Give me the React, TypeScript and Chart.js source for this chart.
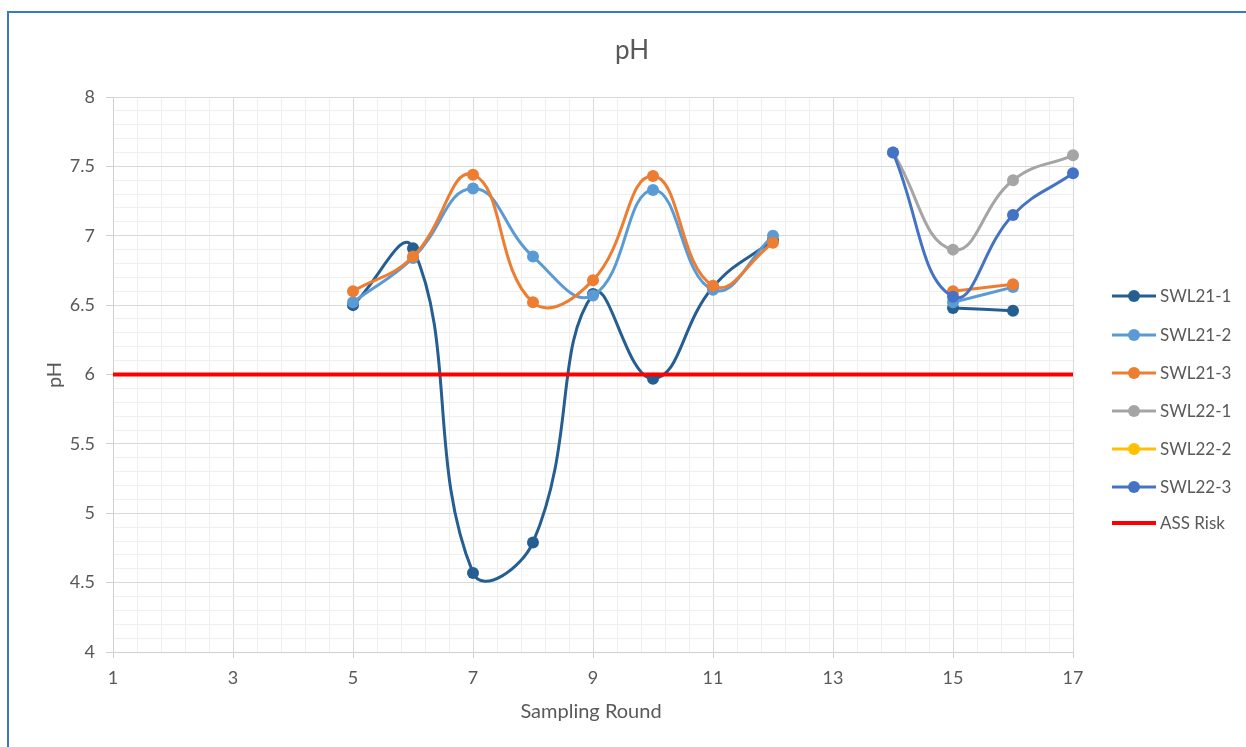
import React, { useEffect, useRef } from "react";
import { Chart, registerables } from "chart.js";

Chart.register(...registerables);

const ROUNDS = [5, 6, 7, 8, 9, 10, 11, 12, 13, 14, 15, 16, 17];
const SWL21_1 = [6.5, 6.91, 4.57, 4.79, 6.58, 5.97, 6.63, 6.97, null, null, 6.48, 6.46, null];
const SWL21_2 = [6.52, 6.84, 7.34, 6.85, 6.57, 7.33, 6.61, 7.0, null, null, 6.52, 6.63, null];
const SWL21_3 = [6.6, 6.85, 7.44, 6.52, 6.68, 7.43, 6.64, 6.95, null, null, 6.6, 6.65, null];
const SWL22_1 = [null, null, null, null, null, null, null, null, null, 7.6, 6.9, 7.4, 7.58];
const SWL22_2 = [null, null, null, null, null, null, null, null, null, null, null, null, null];
const SWL22_3 = [null, null, null, null, null, null, null, null, null, 7.6, 6.56, 7.15, 7.45];
const RISK_X = [1, 17];
const RISK_Y = [6, 6];

const SERIES_NAMES = ["SWL21-1", "SWL21-2", "SWL21-3", "SWL22-1", "SWL22-2", "SWL22-3"];
const SERIES_VALUES = [SWL21_1, SWL21_2, SWL21_3, SWL22_1, SWL22_2, SWL22_3];
const SERIES_COLORS = ["#255E91", "#5B9BD5", "#ED7D31", "#A5A5A5", "#FFC000", "#4472C4"];

const X_MIN = 1, X_MAX = 17, X_MAJOR = 2, X_MINOR = 0.4;
const Y_MIN = 4, Y_MAX = 8, Y_MAJOR = 0.5, Y_MINOR = 0.1;

const FONT = "Lato, 'Open Sans', sans-serif";
const TEXT = "#595959";

function buildTicks(min: number, max: number, step: number) {
  const out: number[] = [];
  const n = Math.round((max - min) / step);
  for (let k = 0; k <= n; k++) out.push(Math.round((min + k * step) * 1000) / 1000);
  return out;
}
const isMajor = (v: number, min: number, major: number) => {
  const r = (v - min) / major;
  return Math.abs(r - Math.round(r)) < 1e-6;
};

const textPlugin = {
  id: "textPlugin",
  afterDraw(chart: any) {
    const { ctx } = chart;
    ctx.save();
    ctx.fillStyle = TEXT;
    ctx.textAlign = "center";
    ctx.textBaseline = "middle";
    ctx.font = `26px ${FONT}`;
    ctx.fillText("pH", 623, 38);
    ctx.font = `20px ${FONT}`;
    ctx.fillText("Sampling Round", 582, 699);
    ctx.save();
    ctx.translate(46, 362);
    ctx.rotate(-Math.PI / 2);
    ctx.fillText("pH", 0, 0);
    ctx.restore();

    // legend
    const ys = [283, 322, 360, 398, 436, 474, 510];
    chart.data.datasets.forEach((ds: any, i: number) => {
      const y = ys[i];
      ctx.strokeStyle = ds.borderColor;
      ctx.lineWidth = ds.label === "ASS Risk" ? 4 : 3;
      ctx.beginPath();
      ctx.moveTo(1103, y);
      ctx.lineTo(1147, y);
      ctx.stroke();
      if (ds.pointRadius > 0) {
        ctx.fillStyle = ds.borderColor;
        ctx.beginPath();
        ctx.arc(1125, y, 6, 0, Math.PI * 2);
        ctx.fill();
      }
      ctx.fillStyle = TEXT;
      ctx.textAlign = "left";
      ctx.font = `17px ${FONT}`;
      ctx.fillText(ds.label, 1151, y + 1);
    });
    ctx.restore();
  },
};

export default function App() {
  const ref = useRef<HTMLCanvasElement>(null);
  useEffect(() => {
    if (!ref.current) return;
    const datasets: any[] = SERIES_NAMES.map((name, i) => ({
      label: name,
      data: ROUNDS.map((r, j) => ({ x: r, y: SERIES_VALUES[i][j] })),
      borderColor: SERIES_COLORS[i],
      backgroundColor: SERIES_COLORS[i],
      borderWidth: 3,
      pointRadius: 6,
      pointBorderWidth: 0,
      tension: 0.45,
      spanGaps: false,
      clip: false,
      order: 20 - i,
    }));
    datasets.push({
      label: "ASS Risk",
      data: RISK_X.map((x, j) => ({ x, y: RISK_Y[j] })),
      borderColor: "#FF0000",
      backgroundColor: "#FF0000",
      borderWidth: 4,
      pointRadius: 0,
      tension: 0,
      clip: false,
      order: 0,
    });

    const xTicks = buildTicks(X_MIN, X_MAX, X_MINOR);
    const yTicks = buildTicks(Y_MIN, Y_MAX, Y_MINOR);

    const chart = new Chart(ref.current, {
      type: "line",
      data: { datasets },
      plugins: [textPlugin],
      options: {
        animation: false,
        responsive: false,
        layout: { padding: { left: 0, top: 84, right: 173, bottom: 35 } },
        plugins: { legend: { display: false }, title: { display: false }, tooltip: { enabled: false } },
        scales: {
          x: {
            type: "linear",
            min: X_MIN,
            max: X_MAX,
            afterBuildTicks: (s: any) => {
              s.ticks = xTicks.map((v) => ({ value: v }));
            },
            afterFit: (s: any) => {
              s.height = 60;
            },
            ticks: {
              autoSkip: false,
              maxRotation: 0,
              padding: 9,
              color: TEXT,
              font: { family: FONT, size: 18 },
              callback: (v: any) => (isMajor(Number(v), X_MIN, X_MAJOR) ? String(Math.round(Number(v))) : ""),
            },
            grid: {
              color: (c: any) => (c.tick && isMajor(c.tick.value, X_MIN, X_MAJOR) ? "#D9D9D9" : "#EFEFEF"),
              tickColor: (c: any) => (c.tick && isMajor(c.tick.value, X_MIN, X_MAJOR) ? "#D0D0D0" : "rgba(0,0,0,0)"),
              tickLength: 6,
              lineWidth: 1,
            },
            border: { display: true, color: "#D0D0D0", width: 1 },
          },
          y: {
            type: "linear",
            min: Y_MIN,
            max: Y_MAX,
            afterBuildTicks: (s: any) => {
              s.ticks = yTicks.map((v) => ({ value: v }));
            },
            afterFit: (s: any) => {
              s.width = 104;
            },
            ticks: {
              autoSkip: false,
              padding: 11,
              color: TEXT,
              font: { family: FONT, size: 18 },
              callback: (v: any) => (isMajor(Number(v), Y_MIN, Y_MAJOR) ? String(Number(Number(v).toFixed(1))) : ""),
            },
            grid: {
              color: (c: any) => (c.tick && isMajor(c.tick.value, Y_MIN, Y_MAJOR) ? "#D9D9D9" : "#EFEFEF"),
              tickColor: (c: any) => (c.tick && isMajor(c.tick.value, Y_MIN, Y_MAJOR) ? "#D0D0D0" : "rgba(0,0,0,0)"),
              tickLength: 7,
              lineWidth: 1,
            },
            border: { display: true, color: "#D0D0D0", width: 1 },
          },
        },
      } as any,
    });
    return () => chart.destroy();
  }, []);

  return (
    <div
      style={{
        position: "fixed",
        left: 7,
        top: 11,
        width: 1239,
        height: 736,
        boxSizing: "border-box",
        borderLeft: "2px solid #3A78C0",
        borderTop: "2px solid #3A78C0",
        background: "#fff",
        overflow: "hidden",
      }}
    >
      <canvas ref={ref} width={1237} height={734} style={{ display: "block", width: 1237, height: 734 }} />
    </div>
  );
}
